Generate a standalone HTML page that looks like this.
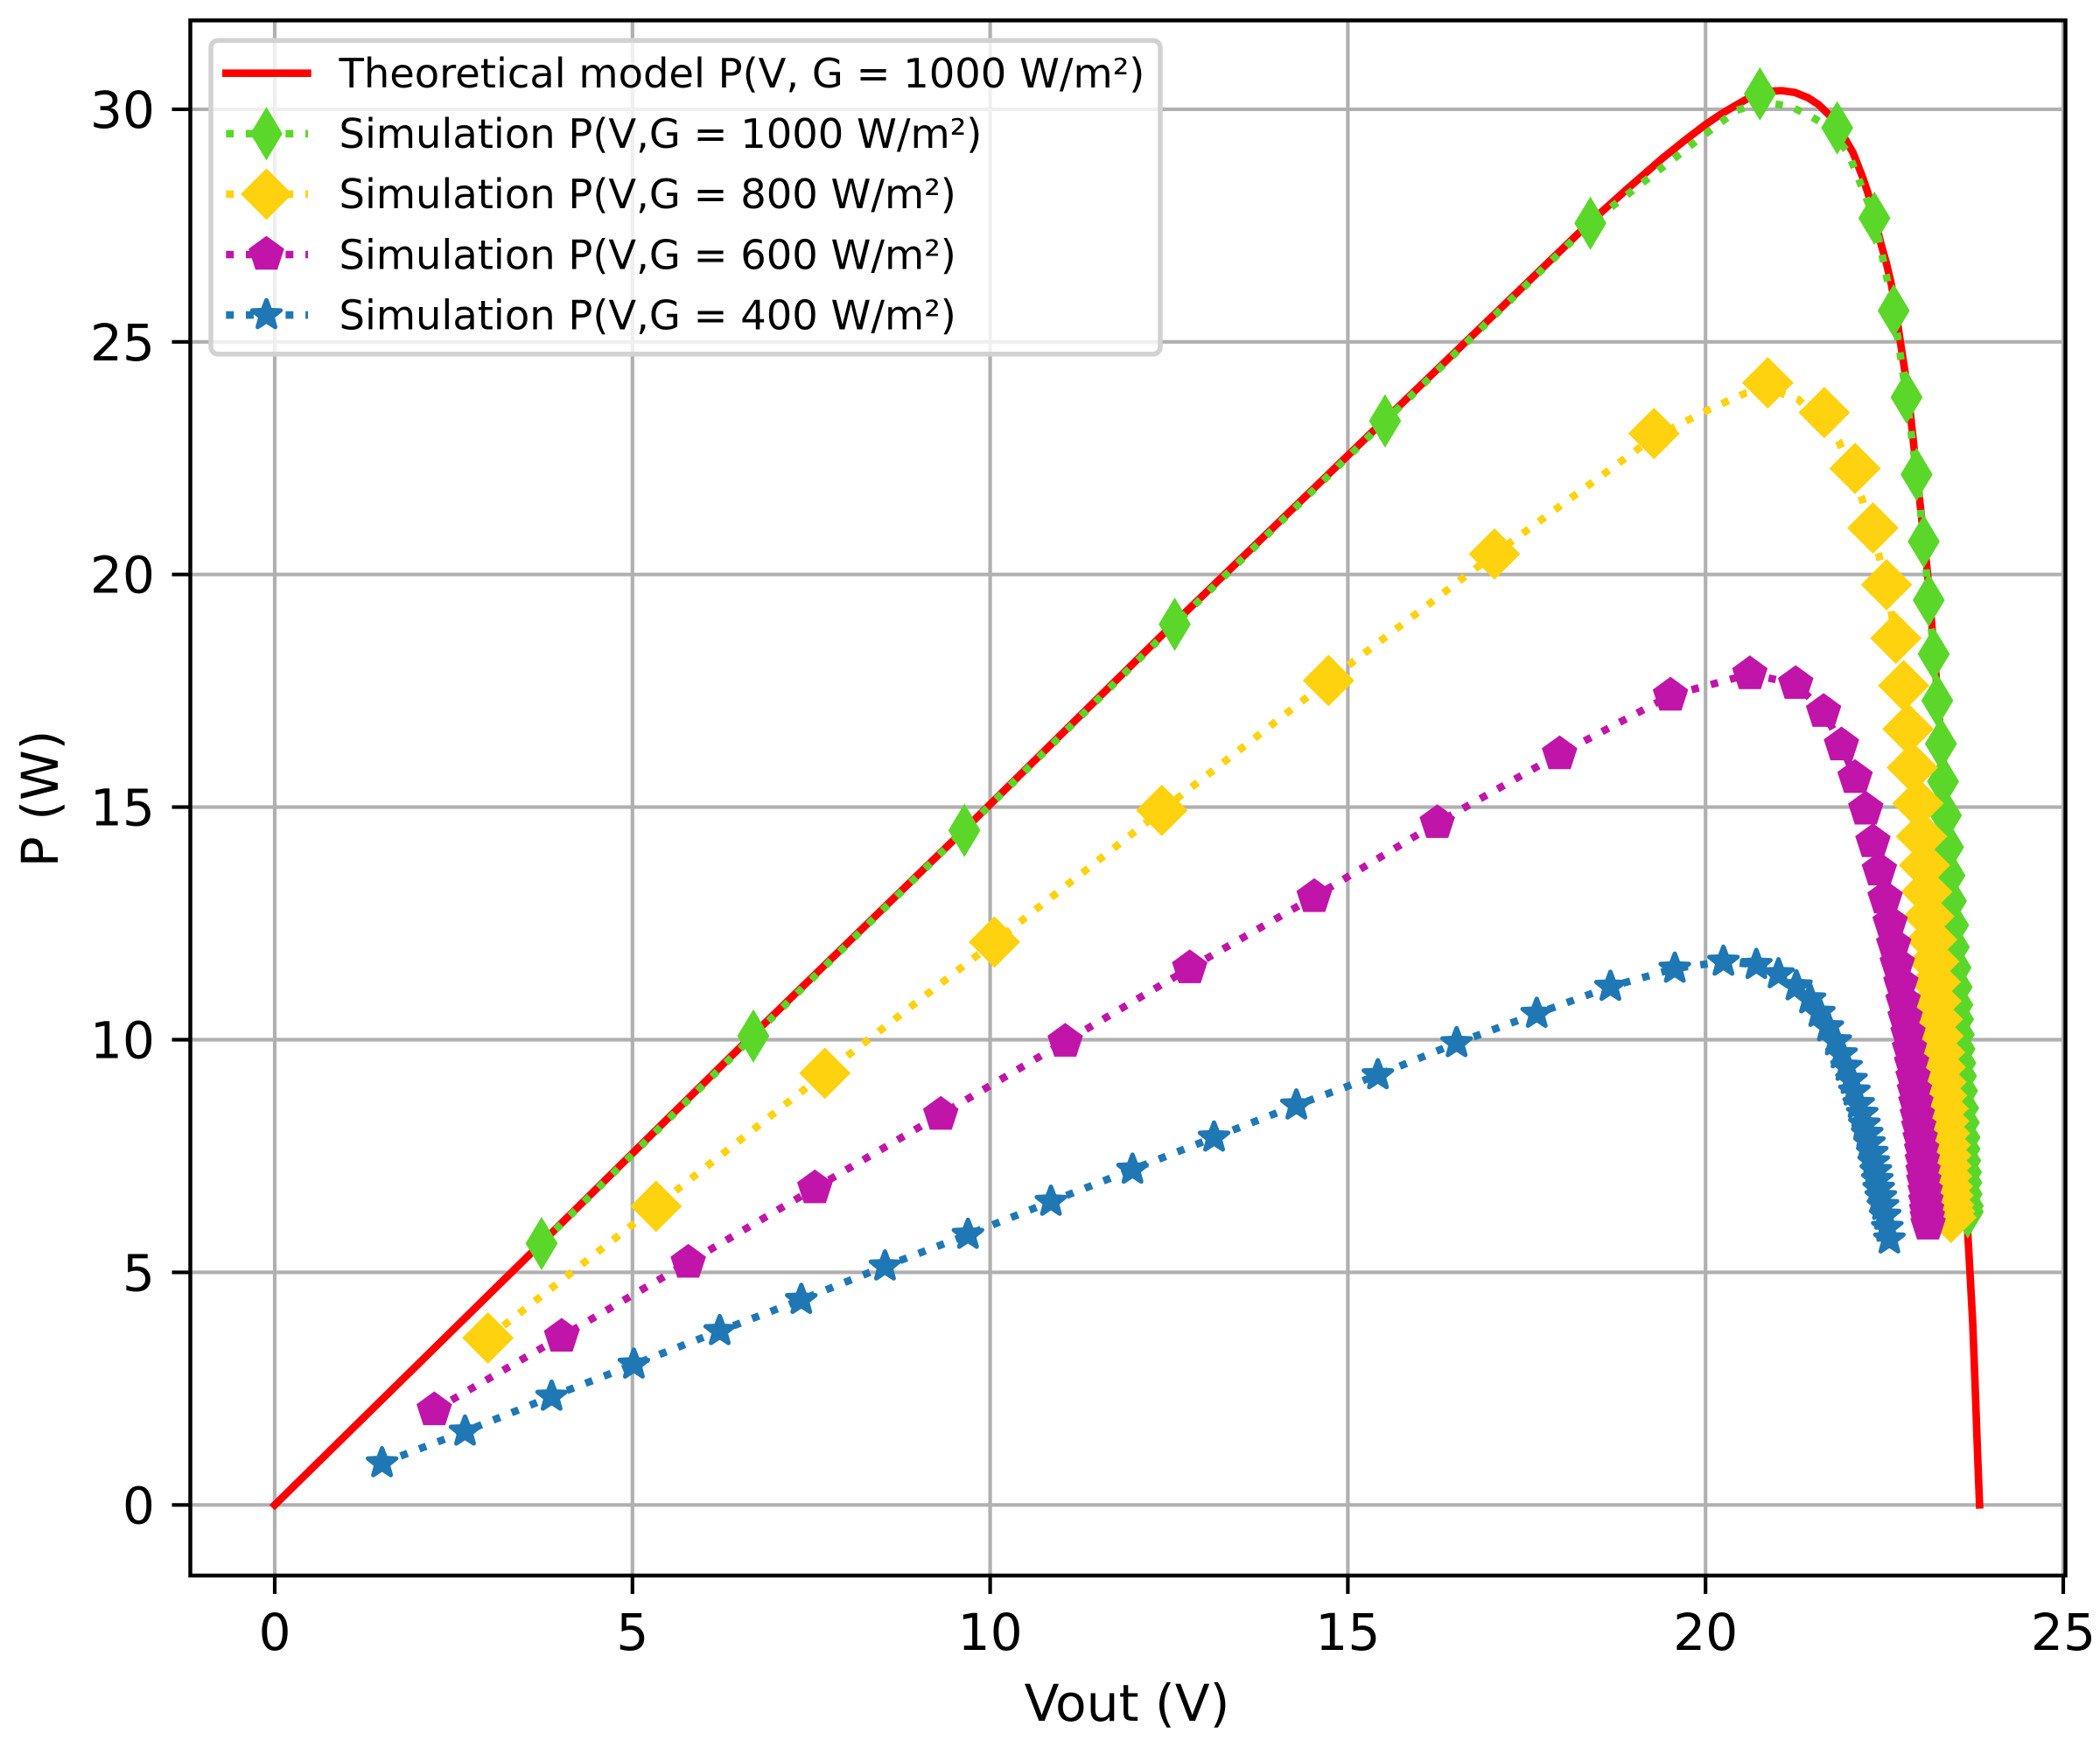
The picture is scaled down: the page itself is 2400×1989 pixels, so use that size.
<!DOCTYPE html>
<html lang="en">
<head>
<meta charset="utf-8">
<title>PV power curves</title>
<style>
  html, body { margin: 0; padding: 0; background: #fff; }
  svg { display: block; }
  text { font-family: "DejaVu Sans", "Liberation Sans", sans-serif; fill: #000; }
</style>
</head>
<body>
<svg id="chart" xmlns="http://www.w3.org/2000/svg" width="2400" height="1989" viewBox="0 0 2400 1989">
  <rect x="0" y="0" width="2400" height="1989" fill="#ffffff"/>
  <g id="grid"></g>
  <g id="series"></g>
  <g id="axes"></g>
  <text x="1288" y="1967" font-size="58.3" text-anchor="middle">Vout (V)</text>
  <text x="0" y="0" font-size="58.3" text-anchor="middle" transform="translate(66 913) rotate(-90)">P (W)</text>
  <g id="legend"></g>
</svg>
<script>
// Tick labels
const xTicks = [0, 5, 10, 15, 20, 25];
const yTicks = [0, 5, 10, 15, 20, 25, 30];

// Theoretical model, G = 1000 W/m2
const theoryV = [0, 3.72, 6.68, 9.63, 12.57, 15.5, 18.37, 18.9, 19.4, 19.7, 19.99, 20.22, 20.44, 20.6, 20.76, 20.92, 21.07, 21.25, 21.43, 21.58, 21.72, 21.85, 21.97, 22.06, 22.13, 22.2, 22.27, 22.36, 22.45, 22.53, 22.6, 22.66, 22.72, 22.77, 22.82, 22.86, 22.9, 22.95, 23.0, 23.05, 23.1, 23.18, 23.25, 23.36, 23.45, 23.52, 23.58, 23.67, 23.7, 23.735, 23.765, 23.8, 23.83];
const theoryP = [0, 5.62, 10.1, 14.5, 18.95, 23.3, 27.55, 28.28, 28.95, 29.32, 29.66, 29.9, 30.1, 30.24, 30.34, 30.39, 30.4, 30.36, 30.25, 30.1, 29.89, 29.62, 29.31, 29.07, 28.8, 28.52, 28.2, 27.68, 27.12, 26.68, 26.22, 25.65, 25.03, 24.53, 24.02, 23.5, 22.94, 22.2, 21.5, 20.8, 20.07, 18.6, 17.3, 14.8, 12.5, 10.4, 8.4, 5.71, 4.9, 3.9, 2.7, 1.2, 0];

// Simulation, G = 1000 W/m2
const g1000V = [3.73, 6.69, 9.64, 12.58, 15.52, 18.39, 20.76, 21.84, 22.36, 22.63, 22.81, 22.95, 23.05, 23.12, 23.19, 23.24, 23.29, 23.32, 23.36, 23.39, 23.41, 23.43, 23.46, 23.47, 23.495, 23.51, 23.52, 23.53, 23.54, 23.55, 23.56, 23.57, 23.585, 23.6, 23.61, 23.62, 23.62, 23.63, 23.64, 23.645, 23.65, 23.665, 23.665];
const g1000P = [5.62, 10.08, 14.5, 18.93, 23.3, 27.55, 30.33, 29.6, 27.66, 25.67, 23.81, 22.15, 20.71, 19.45, 18.29, 17.29, 16.36, 15.55, 14.82, 14.14, 13.53, 12.98, 12.46, 11.99, 11.55, 11.13, 10.75, 10.44, 10.11, 9.8, 9.5, 9.22, 8.9, 8.53, 8.22, 7.9, 7.65, 7.4, 7.15, 6.93, 6.68, 6.43, 6.3];
const g1000LineV = [3.73, 6.69, 9.64, 12.58, 15.52, 18.39, 19.54, 19.99, 20.44, 20.8, 21.17, 21.42, 21.66, 21.99, 22.2, 22.36, 22.63, 22.81, 22.95, 23.05, 23.12, 23.19];
const g1000LineP = [5.62, 10.08, 14.5, 18.93, 23.3, 27.55, 28.92, 29.46, 29.98, 30.15, 30.07, 29.89, 29.68, 29.08, 28.27, 27.66, 25.67, 23.81, 22.15, 20.71, 19.45, 18.29];

// Simulation, G = 800 W/m2
const g800V = [2.98, 5.33, 7.69, 10.06, 12.4, 14.73, 17.05, 19.28, 20.87, 21.66, 22.09, 22.34, 22.53, 22.66, 22.77, 22.83, 22.89, 22.97, 23.02, 23.06, 23.09, 23.12, 23.16, 23.19, 23.21, 23.22, 23.24, 23.25, 23.27, 23.28, 23.29, 23.3, 23.32, 23.33, 23.34, 23.35, 23.36, 23.36, 23.37, 23.38, 23.39, 23.4, 23.41, 23.43];
const g800P = [3.59, 6.42, 9.28, 12.1, 14.93, 17.72, 20.44, 23.03, 24.12, 23.48, 22.28, 21.0, 19.78, 18.63, 17.61, 16.68, 15.85, 15.08, 14.37, 13.75, 13.18, 12.65, 12.15, 11.68, 11.24, 10.83, 10.44, 10.08, 9.73, 9.41, 9.09, 8.8, 8.52, 8.25, 7.99, 7.74, 7.51, 7.29, 7.07, 6.85, 6.65, 6.45, 6.31, 6.18];
const g800LineV = [2.98, 5.33, 7.69, 10.06, 12.4, 14.73, 17.05, 19.28, 20.04, 20.56, 20.87, 21.3, 21.86, 22.18, 22.42, 22.53, 22.66];
const g800LineP = [3.59, 6.42, 9.28, 12.1, 14.93, 17.72, 20.44, 22.95, 23.54, 23.9, 24.0, 23.76, 22.87, 21.66, 20.43, 19.78, 18.63];

// Simulation, G = 600 W/m2
const g600V = [2.23, 4.01, 5.78, 7.55, 9.31, 11.05, 12.79, 14.53, 16.25, 17.96, 19.51, 20.62, 21.26, 21.65, 21.9, 22.09, 22.24, 22.34, 22.43, 22.51, 22.58, 22.63, 22.68, 22.73, 22.76, 22.79, 22.83, 22.85, 22.88, 22.9, 22.92, 22.94, 22.96, 22.98, 23.0, 23.02, 23.03, 23.04, 23.05, 23.07, 23.08, 23.09, 23.1, 23.11];
const g600P = [2.04, 3.62, 5.21, 6.81, 8.39, 9.96, 11.54, 13.07, 14.66, 16.14, 17.4, 17.86, 17.65, 17.05, 16.33, 15.63, 14.95, 14.25, 13.64, 13.04, 12.51, 12.04, 11.63, 11.21, 10.83, 10.47, 10.13, 9.8, 9.49, 9.19, 8.9, 8.64, 8.37, 8.12, 7.87, 7.63, 7.4, 7.17, 6.96, 6.74, 6.53, 6.33, 6.18, 6.03];

// Simulation, G = 400 W/m2
const g400V = [1.5, 2.66, 3.87, 5.02, 6.22, 7.36, 8.53, 9.69, 10.85, 11.99, 13.13, 14.28, 15.42, 16.52, 17.64, 18.67, 19.57, 20.25, 20.71, 21.02, 21.27, 21.46, 21.59, 21.71, 21.82, 21.9, 21.97, 22.04, 22.08, 22.14, 22.19, 22.22, 22.26, 22.29, 22.33, 22.35, 22.38, 22.4, 22.42, 22.45, 22.48, 22.51, 22.54, 22.57];
const g400P = [0.9, 1.58, 2.33, 3.02, 3.74, 4.41, 5.13, 5.81, 6.52, 7.21, 7.9, 8.59, 9.24, 9.93, 10.56, 11.14, 11.53, 11.68, 11.61, 11.41, 11.15, 10.87, 10.58, 10.27, 9.97, 9.69, 9.42, 9.14, 8.89, 8.62, 8.41, 8.18, 7.98, 7.78, 7.57, 7.37, 7.18, 6.99, 6.8, 6.62, 6.43, 6.22, 5.96, 5.71];

const legendLabels = ['Theoretical model P(V, G = 1000 W/m²)', 'Simulation P(V,G = 1000 W/m²)', 'Simulation P(V,G = 800 W/m²)', 'Simulation P(V,G = 600 W/m²)', 'Simulation P(V,G = 400 W/m²)'];

const NS = 'http://www.w3.org/2000/svg';
const plot = { left: 217.5, right: 2360.5, top: 23.3, bottom: 1801 };
function xScale(v) { return 314 + 81.76 * v; }
function yScale(p) { return 1720.3 - 53.18 * p; }

function make(parent, tag, attrs) {
  const el = document.createElementNS(NS, tag);
  for (const k in attrs) el.setAttribute(k, attrs[k]);
  parent.appendChild(el);
  return el;
}
function polyPoints(n, r, inner) {
  const pts = [];
  const count = inner ? n * 2 : n;
  for (let i = 0; i < count; i++) {
    const rad = inner && i % 2 ? r * inner : r;
    const a = -Math.PI / 2 + i * 2 * Math.PI / count;
    pts.push((rad * Math.cos(a)).toFixed(2) + ',' + (rad * Math.sin(a)).toFixed(2));
  }
  return 'M' + pts.join('L') + 'Z';
}
const shapes = {
  thinDiamond: { d: 'M0,-26.5L15.9,0L0,26.5L-15.9,0Z', join: 'miter', sw: 4.17 },
  diamond: { d: 'M0,-26.5L26.5,0L0,26.5L-26.5,0Z', join: 'miter', sw: 4.17 },
  pentagon: { d: polyPoints(5, 18.75), join: 'miter', sw: 4.17 },
  star: { d: polyPoints(5, 17, 0.42), join: 'round', sw: 5 }
};
function drawMarker(parent, shape, color, cx, cy) {
  const s = shapes[shape];
  return make(parent, 'path', {
    d: s.d,
    transform: 'translate(' + cx.toFixed(2) + ' ' + cy.toFixed(2) + ')',
    fill: color,
    stroke: color,
    'stroke-width': s.sw,
    'stroke-linejoin': s.join,
    'stroke-miterlimit': 10
  });
}
function pathFrom(vs, ps) {
  return vs.map(function (v, i) {
    return (i ? 'L' : 'M') + xScale(v).toFixed(2) + ',' + yScale(ps[i]).toFixed(2);
  }).join('');
}

/* grid */
const gridG = document.getElementById('grid');
xTicks.forEach(function (t) {
  const line = make(gridG, 'line', { x1: xScale(t), x2: xScale(t), y1: plot.top, y2: plot.bottom, stroke: '#b0b0b0', 'stroke-width': 4.17 });
  
  
});
yTicks.forEach(function (t) {
  const line = make(gridG, 'line', { x1: plot.left, x2: plot.right, y1: yScale(t), y2: yScale(t), stroke: '#b0b0b0', 'stroke-width': 4.17 });
  
  
});

/* series */
const seriesG = document.getElementById('series');
const theoryLine = make(seriesG, 'path', { d: pathFrom(theoryV, theoryP), fill: 'none', stroke: '#ff0000', 'stroke-width': 8.6, 'stroke-linejoin': 'round', 'stroke-linecap': 'square' });



const dash = '8.5 14.2';
const simSeries = [
  { key: 'g1000', color: '#5bd72a', shape: 'thinDiamond', v: g1000V, p: g1000P, lv: g1000LineV, lp: g1000LineP },
  { key: 'g800', color: '#ffd20f', shape: 'diamond', v: g800V, p: g800P, lv: g800LineV, lp: g800LineP },
  { key: 'g600', color: '#c015a8', shape: 'pentagon', v: g600V, p: g600P, lv: g600V, lp: g600P },
  { key: 'g400', color: '#1f77b4', shape: 'star', v: g400V, p: g400P, lv: g400V, lp: g400P }
];
simSeries.forEach(function (s) {
  const g = make(seriesG, 'g', {});
  
  
  const line = make(g, 'path', { d: pathFrom(s.lv, s.lp), fill: 'none', stroke: s.color, 'stroke-width': 8.5, 'stroke-dasharray': dash, 'stroke-linejoin': 'round' });
  
  
  s.v.forEach(function (v, i) {
    const m = drawMarker(g, s.shape, s.color, xScale(v), yScale(s.p[i]));
    
    
  });
});

/* axes */
const axesG = document.getElementById('axes');
const frame = make(axesG, 'rect', { x: plot.left, y: plot.top, width: plot.right - plot.left, height: plot.bottom - plot.top, fill: 'none', stroke: '#000', 'stroke-width': 4.5 });


xTicks.forEach(function (t) {
  const tick = make(axesG, 'line', { x1: xScale(t), x2: xScale(t), y1: plot.bottom, y2: plot.bottom + 21, stroke: '#000', 'stroke-width': 4.17 });
  
  
  const label = make(axesG, 'text', { x: xScale(t), y: 1886, 'font-size': 58.3, 'text-anchor': 'middle' });
  label.textContent = String(t);
  
  
});
yTicks.forEach(function (t) {
  const tick = make(axesG, 'line', { x1: plot.left - 21, x2: plot.left, y1: yScale(t), y2: yScale(t), stroke: '#000', 'stroke-width': 4.17 });
  
  
  const label = make(axesG, 'text', { x: 177, y: yScale(t) + 21, 'font-size': 58.3, 'text-anchor': 'end' });
  label.textContent = String(t);
  
  
});

/* legend */
const legendG = document.getElementById('legend');
const box = make(legendG, 'rect', { x: 241, y: 46.3, width: 1085, height: 358.5, rx: 8, ry: 8, fill: '#ffffff', 'fill-opacity': 0.8, stroke: '#d2d2d2', 'stroke-width': 5.5 });


legendLabels.forEach(function (label, i) {
  const cy = 83.7 + 69.1 * i;
  const g = make(legendG, 'g', {});
  
  
  const sim = simSeries[i - 1];
  const handle = make(g, 'line', { x1: sim ? 258.3 : 254, x2: sim ? 352 : 355.7, y1: cy, y2: cy, fill: 'none', stroke: sim ? sim.color : '#ff0000', 'stroke-width': 8.6 });
  if (sim) handle.setAttribute('stroke-dasharray', '8.9 13.8');
  
  
  if (sim) {
    const mk = drawMarker(g, sim.shape, sim.color, 304.5, cy);
    
    
  }
  const t = make(g, 'text', { x: 387.5, y: 100 + 69.1 * i, 'font-size': 46.4 });
  t.textContent = label;
  
  
});
</script>
</body>
</html>
